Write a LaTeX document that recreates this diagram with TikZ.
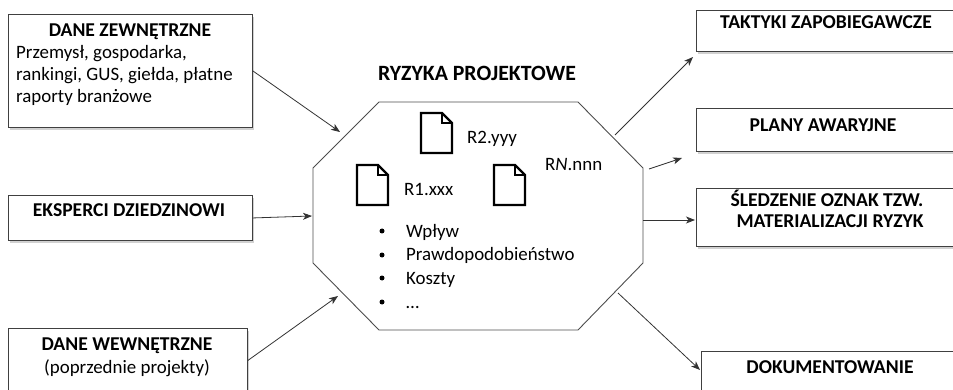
\documentclass[tikz,border=0pt]{standalone}
\usepackage{fontspec}
\setmainfont{Carlito}
\usetikzlibrary{arrows.meta,shadows}
\begin{document}
\begin{tikzpicture}[x=1pt,y=-1pt,
  font=\fontsize{18.9}{21.7}\selectfont,
  box/.style={draw=black!75, line width=0.9pt, fill=white, anchor=north west, inner sep=0pt,
    drop shadow={shadow xshift=2pt,shadow yshift=-2.5pt,opacity=0.3,fill=black!60}},
  ttl/.style={anchor=base, inner sep=0pt, font=\fontsize{19.6}{21.7}\selectfont\bfseries},
  bigttl/.style={anchor=base, inner sep=0pt, font=\fontsize{21.8}{24}\selectfont\bfseries},
  txt/.style={anchor=base west, inner sep=0pt},
  dot/.style={circle, fill=black, inner sep=0pt, minimum size=5pt},
  arr/.style={draw=black!80, line width=0.8pt, -{Stealth[length=9pt,width=7pt,inset=2.5pt]}},
  octo/.style={draw=black!70, line width=0.9pt},
  docicon/.pic={
    \draw[line width=2.2pt, line join=miter] (0,0) -- (21,0) -- (31,10) -- (31,40) -- (0,40) -- cycle;
    \draw[line width=2.2pt] (21,0) -- (21,10) -- (31,10);
  }
]
\useasboundingbox (0,0) rectangle (953,390);

% left boxes
\node[box, minimum width=244pt, minimum height=113pt] (ext) at (8,14) {};
\node[ttl] (extT) at (130,37) {DANE ZEWNĘTRZNE};
\node[txt] (ext1) at (16,59) {Przemysł, gospodarka,};
\node[txt] (ext2) at (16,81) {rankingi, GUS, giełda, płatne};
\node[txt] (ext3) at (16,103) {raporty branżowe};

\node[box, minimum width=244pt, minimum height=45pt] (exp) at (8,195) {};
\node[ttl] (expT) at (129,217) {EKSPERCI DZIEDZINOWI};

\node[box, minimum width=239pt, minimum height=64pt] (int) at (8,328) {};
\node[ttl] (intT) at (127,350) {DANE WEWNĘTRZNE};
\node[anchor=base, inner sep=0pt] (int1) at (127,373) {(poprzednie projekty)};

% right boxes
\node[box, minimum width=270pt, minimum height=41pt] (tak) at (696,10) {};
\node[ttl] (takT) at (826,29) {TAKTYKI ZAPOBIEGAWCZE};

\node[box, minimum width=270pt, minimum height=43pt] (pla) at (696,108) {};
\node[ttl] (plaT) at (823,132) {PLANY AWARYJNE};

\node[box, minimum width=270pt, minimum height=58pt] (sle) at (696,188) {};
\node[ttl] (sleT1) at (827,207) {ŚLEDZENIE OZNAK TZW.};
\node[ttl] (sleT2) at (830,228) {MATERIALIZACJI RYZYK};

\node[box, minimum width=265pt, minimum height=60pt] (dok) at (701,351) {};
\node[ttl] (dokT) at (830,373) {DOKUMENTOWANIE};

% octagon
\draw[octo] (379,102) -- (578,102) -- (643,168) -- (643,263) -- (578,330) -- (379,330) -- (313,263) -- (313,168) -- cycle;
\node[bigttl] (title) at (477,81) {RYZYKA PROJEKTOWE};

\pic at (421,113) {docicon};
\pic at (357,165) {docicon};
\pic at (494,165) {docicon};
\node[txt] (r2) at (467,144) {R2.yyy};
\node[txt] (r1) at (404,196) {R1.xxx};
\node[txt] (rn) at (545,171) {R\textit{N}.nnn};

\foreach \yy/\tt [count=\i] in {237/Wpływ, 261/Prawdopodobieństwo, 284/Koszty, 308/\dots}{
  \node[dot] (b\i) at (382,\yy-6) {};
  \node[txt] (t\i) at (406,\yy) {\tt};
}

% connector end points
\coordinate (inA) at (340,132);
\coordinate (inB) at (312,216);
\coordinate (inC) at (338,296);
\coordinate (outA) at (615,135);
\coordinate (outB) at (649,169);
\coordinate (outC) at (643,220);
\coordinate (outD) at (618,293);
\coordinate (endA) at (693,57);
\coordinate (endB) at (682,158);
\coordinate (endC) at (695,220);
\coordinate (endD) at (700,370);

\draw[arr] (ext.east) -- (inA);
\draw[arr] (exp.east) -- (inB);
\draw[arr] (int.east) -- (inC);
\draw[arr] (outA) -- (endA);
\draw[arr] (outB) -- (endB);
\draw[arr] (outC) -- (endC);
\draw[arr] (outD) -- (endD);
\end{tikzpicture}
\end{document}
